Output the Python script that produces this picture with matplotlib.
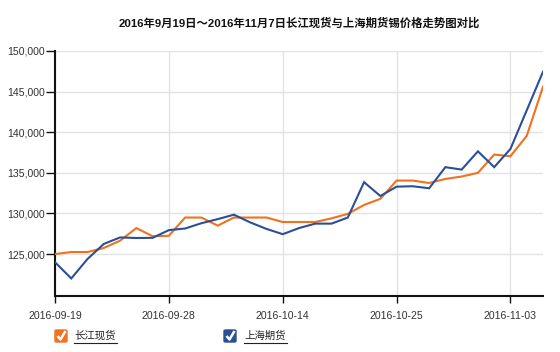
import matplotlib
matplotlib.use("Agg")
import matplotlib.pyplot as plt
from matplotlib.patches import FancyBboxPatch
from matplotlib.lines import Line2D
from matplotlib.ticker import FuncFormatter, FixedLocator

plt.rcParams['font.family'] = ['Liberation Sans', 'Noto Sans CJK SC', 'DejaVu Sans']

title = "2016年9月19日～2016年11月7日长江现货与上海期货锡价格走势图对比"
dates = ["2016-09-19", "2016-09-20", "2016-09-21", "2016-09-22", "2016-09-23",
         "2016-09-26", "2016-09-27", "2016-09-28", "2016-09-29", "2016-09-30",
         "2016-10-10", "2016-10-11", "2016-10-12", "2016-10-13", "2016-10-14",
         "2016-10-17", "2016-10-18", "2016-10-19", "2016-10-20", "2016-10-21",
         "2016-10-24", "2016-10-25", "2016-10-26", "2016-10-27", "2016-10-28",
         "2016-10-31", "2016-11-01", "2016-11-02", "2016-11-03", "2016-11-04",
         "2016-11-07"]
changjiang = [125000, 125250, 125250, 125750, 126650, 128200, 127200, 127250,
              129500, 129500, 128500, 129500, 129500, 129500, 128950, 128950,
              128950, 129400, 129950, 131050, 131800, 134050, 134050, 133750,
              134250, 134550, 135000, 137250, 137050, 139550, 145600]
shanghai = [124000, 122000, 124400, 126250, 127050, 126980, 127000, 127950,
            128150, 128800, 129300, 129850, 128900, 128100, 127450, 128200,
            128750, 128750, 129500, 133850, 132150, 133300, 133350, 133100,
            135700, 135400, 137650, 135700, 137950, 142700, 147450]
tick_labels = ["2016-09-19", "2016-09-28", "2016-10-14", "2016-10-25", "2016-11-03"]
series_names = ["长江现货", "上海期货"]
colors = ["#F0711E", "#2A4F98"]

W, H = 560, 352
fig = plt.figure(figsize=(W / 100, H / 100), dpi=100)
fig.patch.set_facecolor("white")

def fx(x):
    return x / W

def fy(y):
    return 1 - y / H

ax = fig.add_axes([fx(55), fy(296), fx(543) - fx(55), fy(51) - fy(296)])
x = list(range(len(dates)))
ax.plot(x, changjiang, color=colors[0], lw=1.5, zorder=3, solid_joinstyle='miter')
ax.plot(x, shanghai, color=colors[1], lw=1.5, zorder=4, solid_joinstyle='miter')

ax.set_xlim(0, len(dates) - 1)
ax.set_ylim(119840, 150000)
tick_pos = [dates.index(t) for t in tick_labels]
ax.xaxis.set_major_locator(FixedLocator(tick_pos))
ax.set_xticklabels(tick_labels)
ax.set_yticks(range(125000, 150001, 5000))
ax.yaxis.set_major_formatter(FuncFormatter(lambda v, p: f"{int(v):,}"))

ax.grid(True, color="#e3e3e3", lw=1)
ax.set_axisbelow(True)
for s in ["top", "right"]:
    ax.spines[s].set_visible(False)
for s in ["left", "bottom"]:
    ax.spines[s].set_color("#111111")
    ax.spines[s].set_linewidth(1.5)
ax.tick_params(axis='both', colors="#111111", labelcolor="#333333", labelsize=7.6,
               width=1)
ax.tick_params(axis='x', length=5, pad=6)
ax.tick_params(axis='y', length=6.5, pad=1)

fig.text(fx(299), fy(23), title, ha='center', va='center', fontsize=8.2,
         fontweight='bold', color="#111111",
         family=['Liberation Sans', 'Noto Sans CJK SC'])

# legend with checkboxes
legend_items = [(55, 74), (224, 244)]
for (bx, tx), name, c in zip(legend_items, series_names, colors):
    box = FancyBboxPatch((fx(bx), fy(342)), fx(12), 12 / H,
                         boxstyle="round,pad=0,rounding_size=0.003",
                         transform=fig.transFigure, facecolor=c, edgecolor=c)
    fig.add_artist(box)
    fig.add_artist(Line2D([fx(bx + 2.5), fx(bx + 5.5), fx(bx + 10.5)],
                          [fy(336), fy(339.5), fy(331)],
                          transform=fig.transFigure, color="white", lw=1.8,
                          solid_capstyle='butt'))
    fig.text(fx(tx), fy(336), name, ha='left', va='center', fontsize=7.5,
             color="#222222", family=['Noto Sans CJK SC'])
    fig.add_artist(Line2D([fx(tx), fx(tx + 43)], [fy(342.5), fy(342.5)],
                          transform=fig.transFigure, color="#222222", lw=0.8))

fig.savefig("out.png", dpi=100)
